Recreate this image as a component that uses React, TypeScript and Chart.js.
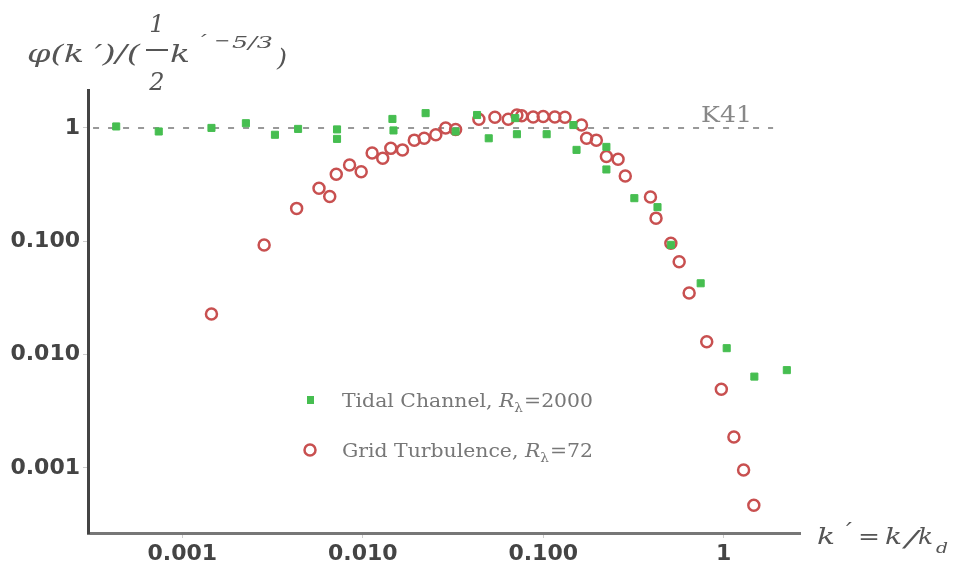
import React, { useEffect, useRef } from 'react';
import { Chart, registerables } from 'chart.js';
Chart.register(...registerables);

// ---- data ----
const tidalK = [0.00043, 0.00074, 0.00145, 0.00225, 0.00326, 0.00438, 0.0072, 0.0072, 0.0146, 0.0148, 0.0223, 0.0327, 0.043, 0.0499, 0.07, 0.0715, 0.1045, 0.147, 0.153, 0.224, 0.224, 0.32, 0.43, 0.51, 0.746, 1.04, 1.48, 2.24];
const tidalPhi = [1.03, 0.93, 1.0, 1.1, 0.87, 0.98, 0.97, 0.8, 1.2, 0.95, 1.35, 0.93, 1.3, 0.81, 1.22, 0.88, 0.88, 1.06, 0.64, 0.68, 0.43, 0.24, 0.2, 0.093, 0.0426, 0.0114, 0.0064, 0.0073];

const gridK = [0.00145, 0.00284, 0.0043, 0.00572, 0.00656, 0.00713, 0.00845, 0.0098, 0.01127, 0.0129, 0.0143, 0.0166, 0.0193, 0.0219, 0.0254, 0.0288, 0.0327, 0.044, 0.054, 0.064, 0.0715, 0.076, 0.088, 0.1, 0.116, 0.132, 0.163, 0.174, 0.197, 0.224, 0.26, 0.285, 0.393, 0.422, 0.51, 0.567, 0.644, 0.806, 0.971, 1.14, 1.29, 1.47];
const gridPhi = [0.0228, 0.0927, 0.195, 0.294, 0.248, 0.39, 0.47, 0.41, 0.6, 0.54, 0.66, 0.64, 0.78, 0.81, 0.87, 1.0, 0.97, 1.19, 1.24, 1.19, 1.3, 1.28, 1.25, 1.26, 1.25, 1.24, 1.06, 0.81, 0.78, 0.56, 0.53, 0.376, 0.246, 0.16, 0.096, 0.066, 0.035, 0.013, 0.00494, 0.00188, 0.00096, 0.00047];

const k41K = [0.00032, 1.88];
const k41Phi = [1, 1];

const xTickValues = [0.001, 0.01, 0.1, 1];
const xTickLabels = ['0.001', '0.010', '0.100', '1'];
const yTickValues = [0.001, 0.01, 0.1, 1];
const yTickLabels = ['0.001', '0.010', '0.100', '1'];

const xMin = 0.00032;
const xMax = 2.65;
const yMin = 0.000267;
const yMax = 2.16;

const tidalLabel = ['Tidal Channel, ', 'R', 'λ', '=2000'];
const gridLabel = ['Grid Turbulence, ', 'R', 'λ', '=72'];
const k41Label = 'K41';

const GREEN = 'rgb(70,190,80)';
const RED = 'rgb(200,80,80)';
const SERIF = '"DejaVu Serif"';

function labelFor(values: number[], labels: string[], v: number) {
  for (let i = 0; i < values.length; i++) {
    if (Math.abs(Math.log10(values[i]) - Math.log10(v)) < 1e-6) return labels[i];
  }
  return '';
}

// draw text stretched horizontally so that it spans [x, x + width]
function fitText(ctx: CanvasRenderingContext2D, text: string, x: number, y: number, width: number) {
  const w = ctx.measureText(text).width || 1;
  ctx.save();
  ctx.textAlign = 'left';
  ctx.translate(x, y);
  ctx.scale(width / w, 1);
  ctx.fillText(text, 0, 0);
  ctx.restore();
}

function drawLegendText(ctx: CanvasRenderingContext2D, parts: string[], x: number, y: number, width: number) {
  const fonts = [`18px ${SERIF}`, `italic 18px ${SERIF}`, `12px ${SERIF}`, `18px ${SERIF}`];
  const widths = parts.map((p, i) => {
    ctx.font = fonts[i];
    return ctx.measureText(p).width + (i === 2 ? 1 : 0);
  });
  const total = widths.reduce((a, b) => a + b, 0);
  const s = width / total;
  ctx.save();
  ctx.textAlign = 'left';
  ctx.textBaseline = 'alphabetic';
  ctx.translate(x, y);
  ctx.scale(s, 1);
  let cx = 0;
  parts.forEach((p, i) => {
    ctx.font = fonts[i];
    ctx.fillText(p, cx, i === 2 ? 5 : 0);
    cx += widths[i];
  });
  ctx.restore();
}

const textPlugin = {
  id: 'texts',
  afterDraw(chart: any) {
    const ctx: CanvasRenderingContext2D = chart.ctx;
    const xs = chart.scales.x;
    const ys = chart.scales.y;
    ctx.save();
    ctx.textBaseline = 'alphabetic';

    // Y-axis title: φ(k′)/( (1/2) k′^(−5/3) )
    ctx.fillStyle = '#555';
    ctx.font = `italic 24px ${SERIF}`;
    fitText(ctx, 'φ(k ′)/(', 27, 62, 113);
    ctx.textAlign = 'center';
    ctx.fillText('1', 157, 32);
    ctx.fillRect(146, 49, 22, 2);
    ctx.fillText('2', 157, 90);
    fitText(ctx, 'k', 170, 62, 20);
    ctx.font = `italic 16px ${SERIF}`;
    fitText(ctx, '′', 201, 46, 6);
    fitText(ctx, '−', 214, 46, 16);
    fitText(ctx, '5/3', 232, 48, 41);
    ctx.font = `italic 24px ${SERIF}`;
    fitText(ctx, ')', 277, 66, 10);

    // X-axis title: k′ = k / k_d
    ctx.font = `italic 22px ${SERIF}`;
    fitText(ctx, 'k', 817, 544, 18);
    fitText(ctx, '′', 846, 538, 6);
    fitText(ctx, '=', 858, 544, 22);
    fitText(ctx, 'k', 885, 544, 17);
    fitText(ctx, '/', 905, 546, 13);
    fitText(ctx, 'k', 918, 544, 15);
    ctx.font = `italic 15px ${SERIF}`;
    fitText(ctx, 'd', 936, 553, 12);

    // K41 label
    ctx.fillStyle = '#888';
    ctx.font = `22px ${SERIF}`;
    fitText(ctx, k41Label, xs.getPixelForValue(0.75), ys.getPixelForValue(1) - 6, 51);

    // Legend
    ctx.fillStyle = GREEN;
    ctx.fillRect(307, 396, 7, 8);
    ctx.strokeStyle = RED;
    ctx.lineWidth = 2.5;
    ctx.beginPath();
    ctx.arc(310, 450, 5.5, 0, Math.PI * 2);
    ctx.stroke();

    ctx.fillStyle = '#777';
    drawLegendText(ctx, tidalLabel, 342, 407, 251);
    drawLegendText(ctx, gridLabel, 342, 457, 251);

    ctx.restore();
  },
};

export default function App() {
  const ref = useRef<HTMLCanvasElement>(null);
  useEffect(() => {
    const chart = new Chart(ref.current as HTMLCanvasElement, {
      type: 'scatter',
      data: {
        datasets: [
          {
            label: 'Tidal Channel',
            data: tidalK.map((k, i) => ({ x: k, y: tidalPhi[i] })),
            pointStyle: 'rect',
            pointRadius: 5,
            backgroundColor: GREEN,
            borderColor: GREEN,
            borderWidth: 1,
            order: 1,
          },
          {
            label: 'Grid Turbulence',
            data: gridK.map((k, i) => ({ x: k, y: gridPhi[i] })),
            pointStyle: 'circle',
            pointRadius: 5.5,
            backgroundColor: 'rgba(255,255,255,0)',
            borderColor: RED,
            borderWidth: 2.5,
            order: 2,
          },
          {
            type: 'line',
            label: 'K41',
            data: k41K.map((k, i) => ({ x: k, y: k41Phi[i] })),
            showLine: true,
            pointRadius: 0,
            borderColor: '#999',
            borderWidth: 2,
            borderDash: [6, 9],
            fill: false,
            order: 3,
          } as any,
        ],
      },
      options: {
        responsive: false,
        animation: false,
        devicePixelRatio: 1,
        layout: { padding: { top: 90, right: 154, left: 0, bottom: 0 } },
        plugins: { legend: { display: false }, tooltip: { enabled: false }, title: { display: false } },
        scales: {
          x: {
            type: 'logarithmic',
            min: xMin,
            max: xMax,
            afterBuildTicks: (s: any) => {
              s.ticks = xTickValues.map((v) => ({ value: v }));
            },
            afterFit: (s: any) => {
              s.height = 37;
            },
            ticks: {
              autoSkip: false,
              maxRotation: 0,
              padding: 3,
              color: '#444',
              font: { family: 'DejaVu Sans', weight: 'bold', size: 22 },
              callback: (v: any) => labelFor(xTickValues, xTickLabels, Number(v)),
            },
            grid: { display: true, drawOnChartArea: false, drawTicks: true, tickLength: 5, color: '#ccc' },
            border: { display: true, color: '#777', width: 3 },
          },
          y: {
            type: 'logarithmic',
            min: yMin,
            max: yMax,
            afterBuildTicks: (s: any) => {
              s.ticks = yTickValues.map((v) => ({ value: v }));
            },
            afterFit: (s: any) => {
              s.width = 88;
            },
            ticks: {
              autoSkip: false,
              padding: 3,
              color: '#444',
              font: { family: 'DejaVu Sans', weight: 'bold', size: 22 },
              callback: (v: any) => labelFor(yTickValues, yTickLabels, Number(v)),
            },
            grid: { display: true, drawOnChartArea: false, drawTicks: true, tickLength: 5, color: '#ccc' },
            border: { display: true, color: '#444', width: 3 },
          },
        },
      } as any,
      plugins: [textPlugin],
    });
    return () => chart.destroy();
  }, []);
  return (
    <div style={{ position: 'fixed', left: 0, top: 0, width: 954, height: 570, background: '#fff' }}>
      <canvas ref={ref} width={954} height={570} style={{ width: 954, height: 570, display: 'block' }} />
    </div>
  );
}
